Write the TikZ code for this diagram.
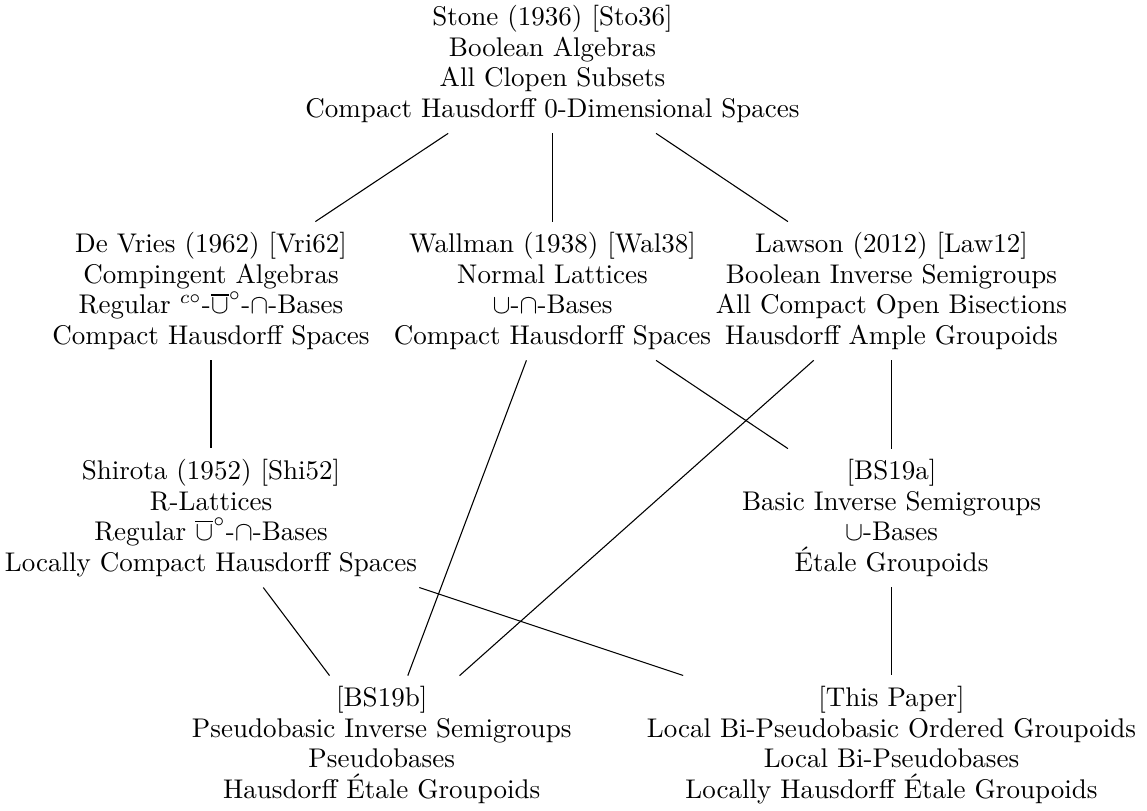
\documentclass[tikz,border=0pt]{standalone}
\usepackage{amsmath}
\usepackage{amssymb}
\usepackage{tikz}
\tikzset{
    paper-box/.style = {align=center, inner xsep=3pt, inner ysep=3.8pt, font=\fontsize{10}{11.3}\selectfont},
    paper-link/.style = {thin},
}

\begin{document}
\begin{tikzpicture}[x=0.37pt,y=-0.37pt]
\useasboundingbox (0,0) rectangle (1147,811);
\node[paper-box] (stone) at (552.5,64) {Stone (1936) [Sto36]\\ Boolean Algebras\\ All Clopen Subsets\\ Compact Hausdorff 0-Dimensional Spaces};
\node[paper-box] (devries) at (211,291) {De Vries (1962) [Vri62]\\ Compingent Algebras\\ Regular ${}^{c\circ}$-$\overline{\cup}^{\circ}$-$\cap$-Bases\\ Compact Hausdorff Spaces};
\node[paper-box] (wallman) at (552.5,291) {Wallman (1938) [Wal38]\\ Normal Lattices\\ $\cup$-$\cap$-Bases\\ Compact Hausdorff Spaces};
\node[paper-box] (lawson) at (891.5,291) {Lawson (2012) [Law12]\\ Boolean Inverse Semigroups\\ All Compact Open Bisections\\ Hausdorff Ample Groupoids};
\node[paper-box] (shirota) at (211,518) {Shirota (1952) [Shi52]\\ R-Lattices\\ Regular $\overline{\cup}^{\circ}$-$\cap$-Bases\\ Locally Compact Hausdorff Spaces};
\node[paper-box] (bs19a) at (891.5,518) {[BS19a]\\ Basic Inverse Semigroups\\ $\cup$-Bases\\ \'Etale Groupoids};
\node[paper-box] (bs19b) at (381.7,745) {[BS19b]\\ Pseudobasic Inverse Semigroups\\ Pseudobases\\ Hausdorff \'Etale Groupoids};
\node[paper-box] (thispaper) at (891.5,745) {[This Paper]\\ Local Bi-Pseudobasic Ordered Groupoids\\ Local Bi-Pseudobases\\ Locally Hausdorff \'Etale Groupoids};

% links between the results
\draw[paper-link] (stone) -- (devries);
\draw[paper-link] (stone) -- (wallman);
\draw[paper-link] (stone) -- (lawson);
\draw[paper-link] (devries) -- (shirota);
\draw[paper-link] (wallman) -- (bs19b);
\draw[paper-link] (wallman) -- (bs19a);
\draw[paper-link] (lawson) -- (bs19b);
\draw[paper-link] (lawson) -- (bs19a);
\draw[paper-link] (shirota) -- (bs19b);
\draw[paper-link] (shirota) -- (thispaper);
\draw[paper-link] (bs19a) -- (thispaper);
\end{tikzpicture}
\end{document}
